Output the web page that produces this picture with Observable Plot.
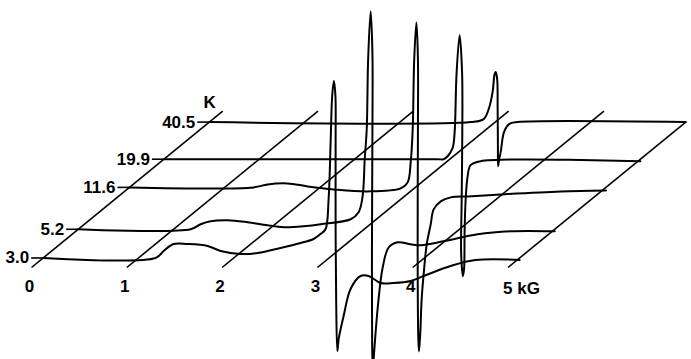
<!DOCTYPE html>
<html>
<head>
<meta charset="utf-8">
<script src="https://cdn.jsdelivr.net/npm/d3@7"></script>
<script src="https://cdn.jsdelivr.net/npm/@observablehq/plot@0.6"></script>
<style>
  html, body { margin: 0; padding: 0; background: #fff; }
  #chart svg { display: block; }
</style>
</head>
<body>
<div id="chart"></div>
<script>
// ---- Data (EPR spectra vs temperature) ----
const temperatures = [3.0, 5.2, 11.6, 19.9, 40.5];        // K
const tempLabels   = ["3.0", "5.2", "11.6", "19.9", "40.5"];
const fieldTicks   = [0, 1, 2, 3, 4, 5];                    // kG
const fieldLabels  = ["0", "1", "2", "3", "4", "5 kG"];
const tempAxisLabel = "K";
const tempAxisRange = [2.5, 50];                            // K, extent of the temperature axis
const fieldAxisTopT = [50, 50, 50, 50, 50, 40.5];           // top temperature of each field line

// field (kG) and signal (arbitrary units) per spectrum
const field_3_0 = [0, 1.180, 1.264, 1.369, 1.516, 1.726, 1.863, 2.072, 2.251, 2.492, 2.702, 2.838, 2.912, 2.964, 2.996, 3.017, 3.033, 3.051, 3.067, 3.069, 3.069, 3.075, 3.087, 3.101, 3.153, 3.226, 3.331, 3.415, 3.541, 3.678, 3.856, 3.992, 4.276, 4.538, 5.0];
const signal_3_0 = [0, 0, 7, 14, 14, 12, 7, 4, 5, 10, 15, 19, 24, 29, 60, 117, 162, 177, 162, 117, 32, -43, -93, -81, -58, -31, -18, -18, -25, -25, -23, -18, -8, -2, -2];

const field_5_2 = [0, 1.179, 1.284, 1.389, 1.568, 1.778, 1.987, 2.197, 2.365, 2.544, 2.858, 2.942, 2.984, 3.006, 3.027, 3.042, 3.068, 3.087, 3.087, 3.082, 3.084, 3.091, 3.101, 3.143, 3.195, 3.258, 3.352, 3.488, 3.593, 3.834, 4.191, 4.537, 5.0];
const signal_5_2 = [0, 0, 5, 8, 9, 7, 4, 2, 3, 5, 10, 17, 33, 70, 100, 170, 218, 175, 100, -20, -115, -142, -128, -78, -38, -18, -13, -15, -16, -12, -5, -2, -2];

const field_11_6 = [0, 1.303, 1.450, 1.660, 1.870, 2.143, 2.500, 2.846, 2.919, 2.951, 2.972, 2.988, 3.011, 3.027, 3.027, 3.024, 3.030, 3.038, 3.051, 3.066, 3.087, 3.119, 3.161, 3.192, 3.266, 3.371, 3.549, 3.895, 4.525, 5.0];
const signal_11_6 = [0, 0, 3, 4, 1, -2, -4, -1, 5, 25, 58, 128, 165, 128, 58, -62, -147, -164, -147, -112, -87, -57, -37, -22, -14, -10, -9, -7, -4, -3];

const field_19_9 = [0, 2.872, 2.935, 2.977, 3.029, 3.050, 3.071, 3.103, 3.129, 3.131, 3.124, 3.119, 3.137, 3.150, 3.155, 3.166, 3.187, 3.218, 3.323, 5.0];
const signal_19_9 = [0, 0, 0, 3, 11, 26, 86, 124, 86, 26, -44, -94, -117, -109, -74, -41, -17, -6, -2, -2];

const field_40_5 = [0, 2.743, 2.879, 2.932, 2.973, 2.994, 3.005, 3.021, 3.026, 3.029, 3.031, 3.042, 3.058, 3.093, 3.146, 3.234, 5.0];
const signal_40_5 = [0, 0, 3, 13, 30, 48, 50, 43, 13, -27, -44, -37, -30, -10, -2, 0, 0];

const fields  = [field_3_0, field_5_2, field_11_6, field_19_9, field_40_5];
const signals = [signal_3_0, signal_5_2, signal_11_6, signal_19_9, signal_40_5];

// ---- Oblique (waterfall) projection ----
const depthPerDecade = 120.2;   // vertical units per decade of temperature
const skew = 0.01283;           // kG shift per vertical unit of depth
const tickLen = 0.126;          // kG, length of the row tick
const depth = T => depthPerDecade * Math.log10(T / tempAxisRange[0]);
const projX = (B, T) => B + skew * depth(T);
const projY = (a, T) => depth(T) + a;

const rows = [];
temperatures.forEach((T, s) => {
  fields[s].forEach((B, i) => {
    rows.push({T, X: projX(B, T), Y: projY(signals[s][i], T)});
  });
});

const rowTable = temperatures.map((T, i) => ({T, label: tempLabels[i]}));
const fieldTable = fieldTicks.map((f, i) => ({f, label: fieldLabels[i], top: fieldAxisTopT[i]}));

const font = "Liberation Sans, Arial, Helvetica, sans-serif";

const chart = Plot.plot({
  width: 691,
  height: 359,
  margin: 0,
  x: {domain: [-0.3253, 6.9255], axis: null},
  y: {domain: [-92, 267], axis: null},
  marks: [
    // field lines (diagonals)
    Plot.link(fieldTable, {
      x1: d => projX(d.f, tempAxisRange[0]), y1: () => depth(tempAxisRange[0]),
      x2: d => projX(d.f, d.top), y2: d => depth(d.top),
      stroke: "black", strokeWidth: 1.6
    }),
    // row ticks
    Plot.link(rowTable, {
      x1: d => projX(0, d.T) - tickLen, y1: d => depth(d.T),
      x2: d => projX(0, d.T), y2: d => depth(d.T),
      stroke: "black", strokeWidth: 1.6
    }),
    // spectra
    Plot.line(rows, {
      x: "X", y: "Y", z: "T", curve: "catmull-rom",
      stroke: "black", strokeWidth: 2, strokeLinejoin: "round"
    }),
    // temperature labels
    Plot.text(rowTable, {
      x: d => projX(0, d.T) - tickLen, y: d => depth(d.T), text: "label",
      textAnchor: "end", dx: -2, fontSize: 17, fontWeight: "bold", fontFamily: font, fill: "black"
    }),
    Plot.text([tempAxisLabel], {
      x: () => projX(0, tempAxisRange[1]), y: () => depth(tempAxisRange[1]), text: d => d,
      dx: -13, dy: -9, fontSize: 17, fontWeight: "bold", fontFamily: font, fill: "black"
    }),
    // field labels
    Plot.text(fieldTable.filter(d => d.f < 5), {
      x: d => projX(d.f, tempAxisRange[0]), y: () => depth(tempAxisRange[0]), text: "label",
      dx: -2, dy: 19, fontSize: 17, fontWeight: "bold", fontFamily: font, fill: "black"
    }),
    Plot.text(fieldTable.filter(d => d.f === 5), {
      x: d => projX(d.f, tempAxisRange[0]), y: () => depth(tempAxisRange[0]), text: "label",
      textAnchor: "start", dx: -5, dy: 21, fontSize: 17, fontWeight: "bold", fontFamily: font, fill: "black"
    })
  ]
});
document.getElementById("chart").append(chart);
</script>
</body>
</html>
